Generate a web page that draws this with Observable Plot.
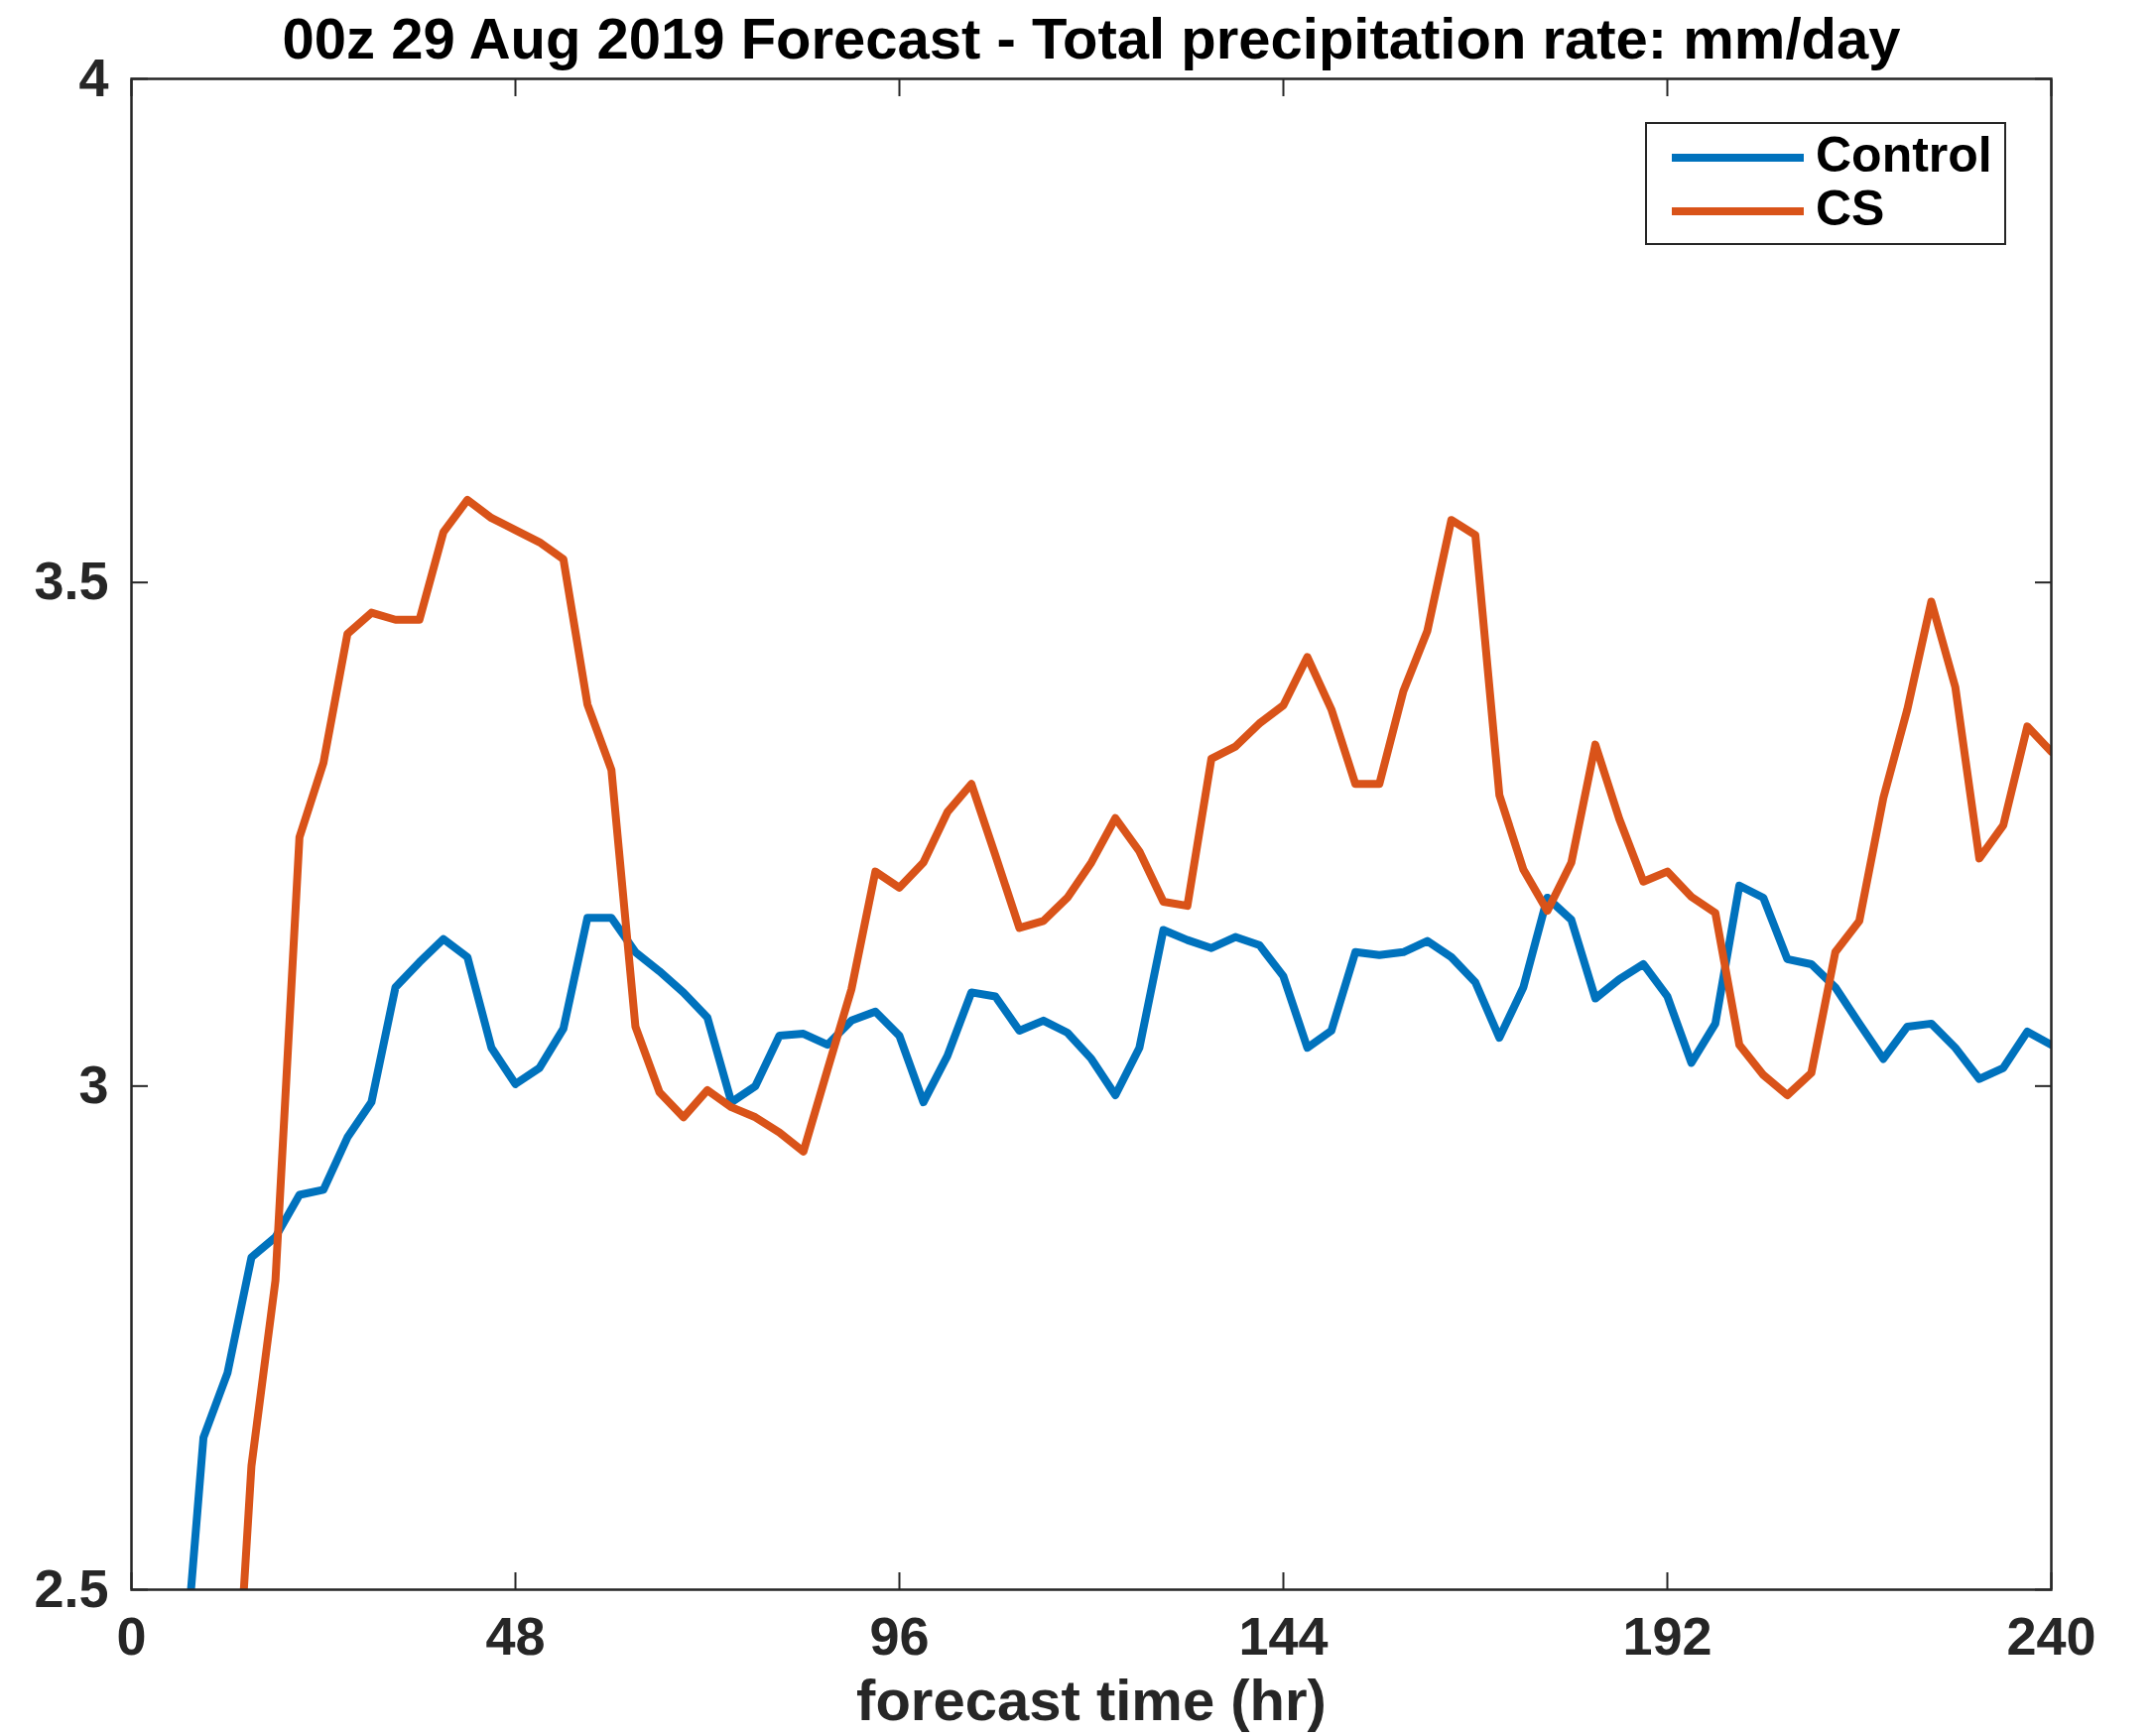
<!DOCTYPE html>
<html>
<head>
<meta charset="utf-8">
<script src="https://cdn.jsdelivr.net/npm/d3@7"></script>
<script src="https://cdn.jsdelivr.net/npm/@observablehq/plot@0.6"></script>
<style>
html, body { margin: 0; padding: 0; background: #fff; }
#wrap { position: relative; width: 2172px; height: 1750px; overflow: hidden; }
#wrap svg.overlay { position: absolute; left: 0; top: 0; }
</style>
</head>
<body>
<div id="wrap"></div>
<script>
// ---- data ----
const hours = [6, 9, 12, 15, 18, 21, 24, 27, 30, 33, 36, 39, 42, 45, 48, 51, 54, 57, 60,
  63, 66, 69, 72, 75, 78, 81, 84, 87, 90, 93, 96, 99, 102, 105, 108, 111, 114, 117, 120,
  123, 126, 129, 132, 135, 138, 141, 144, 147, 150, 153, 156, 159, 162, 165, 168, 171, 174, 177, 180,
  183, 186, 189, 192, 195, 198, 201, 204, 207, 210, 213, 216, 219, 222, 225, 228, 231, 234, 237, 240];

const control = [2.36, 2.651, 2.715, 2.830, 2.850, 2.892, 2.897, 2.949, 2.984, 3.098, 3.123, 3.146, 3.128, 3.038, 3.002, 3.018, 3.057, 3.167, 3.167,
  3.133, 3.114, 3.093, 3.068, 2.984, 3.000, 3.050, 3.052, 3.041, 3.065, 3.074, 3.050, 2.984, 3.030, 3.093, 3.089, 3.055, 3.065, 3.053, 3.027,
  2.991, 3.038, 3.155, 3.145, 3.137, 3.148, 3.140, 3.109, 3.038, 3.055, 3.133, 3.130, 3.133, 3.144, 3.128, 3.103, 3.048, 3.098, 3.187, 3.165,
  3.087, 3.106, 3.121, 3.089, 3.023, 3.062, 3.199, 3.187, 3.126, 3.121, 3.098, 3.062, 3.027, 3.059, 3.062, 3.038, 3.007, 3.018, 3.054, 3.041];

const cs = [null, null, 2.235, 2.623, 2.807, 3.247, 3.321, 3.449, 3.470, 3.463, 3.463, 3.550, 3.582, 3.564, 3.552, 3.540, 3.523, 3.379, 3.314,
  3.059, 2.994, 2.969, 2.996, 2.979, 2.969, 2.954, 2.935, 3.016, 3.096, 3.213, 3.197, 3.222, 3.272, 3.300, 3.229, 3.157, 3.164, 3.187, 3.222,
  3.266, 3.233, 3.183, 3.179, 3.325, 3.337, 3.360, 3.378, 3.426, 3.374, 3.300, 3.300, 3.392, 3.452, 3.562, 3.547, 3.289, 3.215, 3.174, 3.222,
  3.339, 3.265, 3.203, 3.213, 3.188, 3.172, 3.041, 3.011, 2.991, 3.013, 3.133, 3.164, 3.286, 3.374, 3.481, 3.396, 3.226, 3.259, 3.357, 3.332];

const seriesNames = ["Control", "CS"];
const seriesColors = ["#0072BD", "#D95319"];
const xTicks = [0, 48, 96, 144, 192, 240];
const yTicks = [2.5, 3, 3.5, 4];
const titleText = "00z 29 Aug 2019 Forecast - Total precipitation rate: mm/day";
const xLabelText = "forecast time (hr)";

// ---- table ----
const rows = [];
hours.forEach((h, i) => {
  if (control[i] != null) rows.push({hour: h, value: control[i], series: seriesNames[0]});
  if (cs[i] != null) rows.push({hour: h, value: cs[i], series: seriesNames[1]});
});

const font = '"Liberation Sans", Arial, Helvetica, sans-serif';
const axisColor = "#262626";
const plainFormat = d => String(d);

const chart = Plot.plot({
  width: 2172,
  height: 1750,
  marginLeft: 132,
  marginRight: 105,
  marginTop: 79,
  marginBottom: 148,
  style: {fontFamily: font, background: "#fff", color: axisColor},
  x: {domain: [0, 240]},
  y: {domain: [2.5, 4]},
  color: {domain: seriesNames, range: seriesColors},
  marks: [
    Plot.line(rows, {x: "hour", y: "value", z: "series", stroke: "series", strokeWidth: 8, strokeLinejoin: "round", clip: true}),
    Plot.frame({stroke: axisColor, strokeWidth: 2.5}),
    Plot.axisX(xTicks, {anchor: "bottom", tickSize: -17, tickFormat: () => "", label: null, color: axisColor, strokeWidth: 2}),
    Plot.axisX(xTicks, {anchor: "top", tickSize: -17, tickFormat: () => "", label: null, color: axisColor, strokeWidth: 2}),
    Plot.axisY(yTicks, {anchor: "left", tickSize: -17, tickFormat: () => "", label: null, color: axisColor, strokeWidth: 2}),
    Plot.axisY(yTicks, {anchor: "right", tickSize: -17, tickFormat: () => "", label: null, color: axisColor, strokeWidth: 2}),
    Plot.axisX(xTicks, {anchor: "bottom", tickSize: 0, tickPadding: 27, tickFormat: plainFormat, label: null, fontSize: 54, fontWeight: "bold", color: axisColor}),
    Plot.axisY(yTicks, {anchor: "left", tickSize: 0, tickPadding: 23, tickFormat: plainFormat, label: null, fontSize: 54, fontWeight: "bold", color: axisColor}),
    Plot.text([titleText], {frameAnchor: "top", dy: -21, lineAnchor: "bottom", fontSize: 58, fontWeight: "bold", fill: "#000"}),
    Plot.text([xLabelText], {frameAnchor: "bottom", dy: 131, lineAnchor: "bottom", fontSize: 58, fontWeight: "bold", fill: axisColor})
  ]
});

const wrap = document.getElementById("wrap");
wrap.appendChild(chart);

// ---- legend overlay ----
const leg = d3.select(wrap).append("svg")
  .attr("class", "overlay")
  .attr("width", 2172).attr("height", 1750)
  .style("font-family", font);
leg.append("rect")
  .attr("x", 1659).attr("y", 124).attr("width", 362).attr("height", 122)
  .attr("fill", "#fff").attr("stroke", axisColor).attr("stroke-width", 2);
const rowY = [159, 213];
seriesNames.forEach((name, i) => {
  leg.append("line")
    .attr("x1", 1685).attr("x2", 1818).attr("y1", rowY[i]).attr("y2", rowY[i])
    .attr("stroke", seriesColors[i]).attr("stroke-width", 8);
  leg.append("text")
    .attr("x", 1830).attr("y", rowY[i] + 14)
    .attr("font-size", 50).attr("font-weight", "bold").attr("fill", "#000")
    .text(name);
});
</script>
</body>
</html>
